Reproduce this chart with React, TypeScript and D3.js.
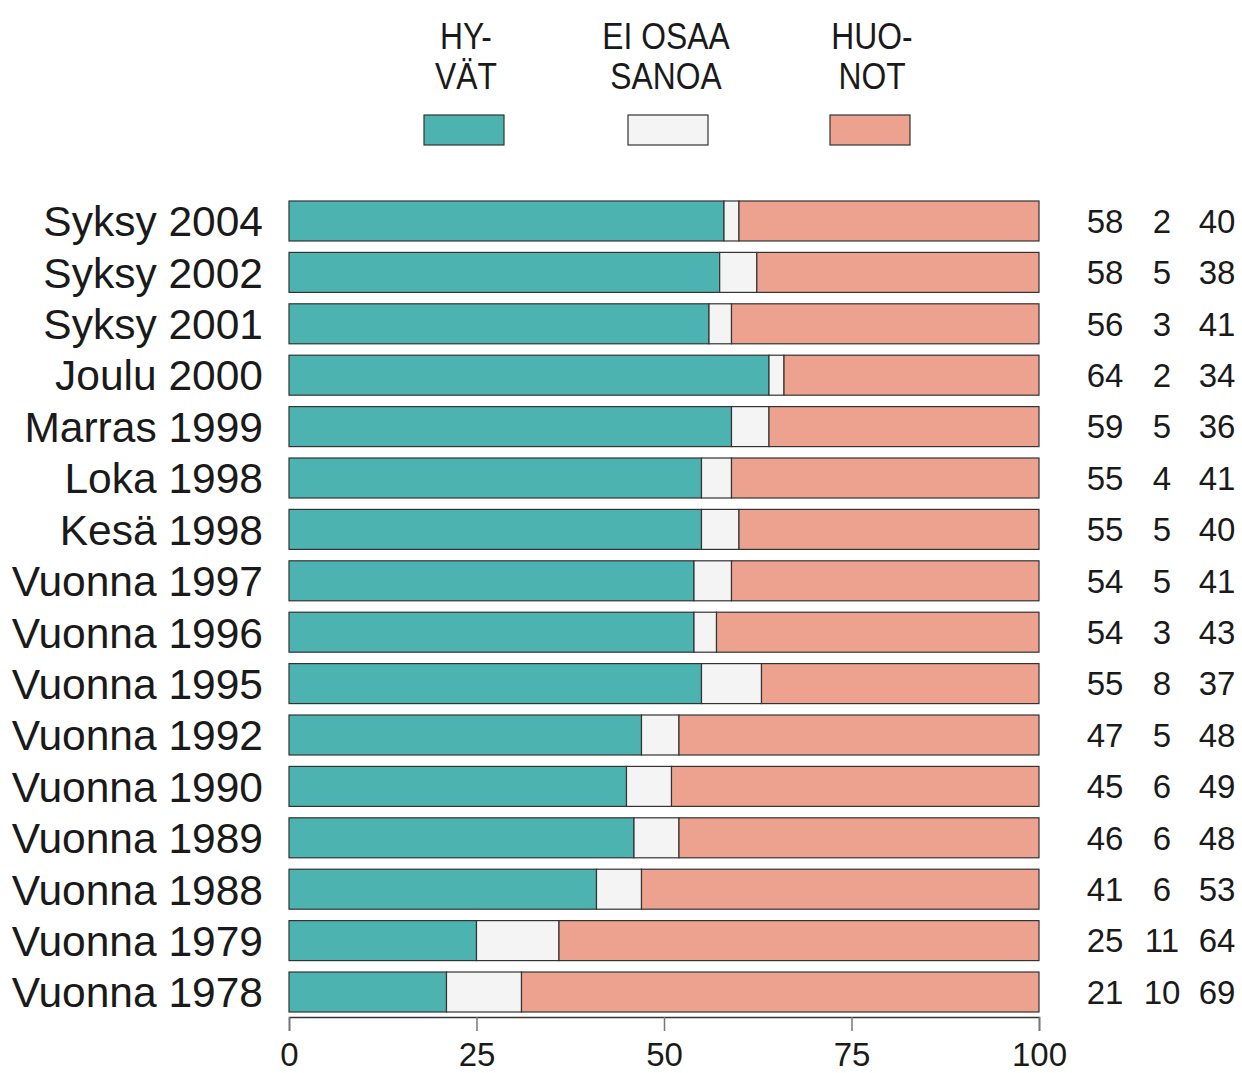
import * as d3 from 'd3';
import { useEffect, useRef } from 'react';

const periods = [
  'Syksy 2004', 'Syksy 2002', 'Syksy 2001', 'Joulu 2000', 'Marras 1999',
  'Loka 1998', 'Kesä 1998', 'Vuonna 1997', 'Vuonna 1996', 'Vuonna 1995',
  'Vuonna 1992', 'Vuonna 1990', 'Vuonna 1989', 'Vuonna 1988', 'Vuonna 1979', 'Vuonna 1978',
];
const hyvat = [58, 58, 56, 64, 59, 55, 55, 54, 54, 55, 47, 45, 46, 41, 25, 21];
const eiOsaa = [2, 5, 3, 2, 5, 4, 5, 5, 3, 8, 5, 6, 6, 6, 11, 10];
const huonot = [40, 38, 41, 34, 36, 41, 40, 41, 43, 37, 48, 49, 48, 53, 64, 69];
const seriesNames = [['HY-', 'VÄT'], ['EI OSAA', 'SANOA'], ['HUO-', 'NOT']];
const colors = ['#4db3b1', '#f4f4f4', '#eca28e'];
const xTicks = [0, 25, 50, 75, 100];

const App = () => {
  const svgRef = useRef(null);
  const width = 1242, height = 1073;

  useEffect(() => {
    const svg = d3.select(svgRef.current);
    svg.selectAll('*').remove();
    const sans = 'Liberation Sans, Arial, sans-serif';

    const x = d3.scaleLinear().domain([0, 100]).range([289, 1039]);
    const y = d3.scaleBand().domain(periods).range([201, 1012]).paddingInner(0.222).paddingOuter(0);

    const rows = periods.map((p, i) => ({ p, vals: [hyvat[i], eiOsaa[i], huonot[i]] }));

    // bars (rounded figures may not add to 100, so share of the row total)
    rows.forEach(r => {
      const total = d3.sum(r.vals);
      let acc = 0;
      r.vals.forEach((v, k) => {
        const a = acc / total * 100, b = (acc + v) / total * 100;
        svg.append('rect')
          .attr('x', x(a)).attr('y', y(r.p))
          .attr('width', x(b) - x(a)).attr('height', y.bandwidth())
          .attr('fill', colors[k]).attr('stroke', '#333').attr('stroke-width', 1.2);
        acc += v;
      });
      svg.append('text')
        .attr('x', 263).attr('y', y(r.p) + y.bandwidth() / 2)
        .attr('dy', '0.36em').attr('text-anchor', 'end')
        .style('font-family', sans).style('font-size', '42.5px').attr('fill', '#1a1a1a')
        .text(r.p);
      const cols = [1105, 1162, 1217];
      r.vals.forEach((v, k) => {
        svg.append('text')
          .attr('x', cols[k]).attr('y', y(r.p) + y.bandwidth() / 2)
          .attr('dy', '0.36em').attr('text-anchor', 'middle')
          .style('font-family', sans).style('font-size', '33px').attr('fill', '#1a1a1a')
          .text(v);
      });
    });

    // axis
    const axis = svg.append('g')
      .attr('transform', 'translate(0,1017)')
      .call(d3.axisBottom(x).tickValues(xTicks).tickSize(14).tickPadding(12));
    axis.select('.domain').attr('stroke', '#333').attr('stroke-width', 1.5);
    axis.selectAll('.tick line').attr('stroke', '#777').attr('stroke-width', 1.5);
    axis.selectAll('.tick text')
      .style('font-family', sans).style('font-size', '33px').attr('fill', '#1a1a1a');

    // legend, narrow lettering
    const legX = [466, 666, 872];
    seriesNames.forEach((lines, k) => {
      lines.forEach((t, j) => {
        svg.append('text')
          .attr('transform', `translate(${legX[k]},${49 + j * 40}) scale(0.86,1)`)
          .attr('text-anchor', 'middle')
          .style('font-family', sans).style('font-size', '37px').attr('fill', '#1a1a1a')
          .text(t);
      });
      svg.append('rect')
        .attr('x', [424, 628, 830][k]).attr('y', 115).attr('width', 80).attr('height', 30)
        .attr('fill', colors[k]).attr('stroke', '#333').attr('stroke-width', 1.2);
    });
  }, []);

  return <svg ref={svgRef} width={width} height={height}
    style={{ position: 'absolute', left: 0, top: 0, background: '#fff' }}></svg>;
};

export default App;
